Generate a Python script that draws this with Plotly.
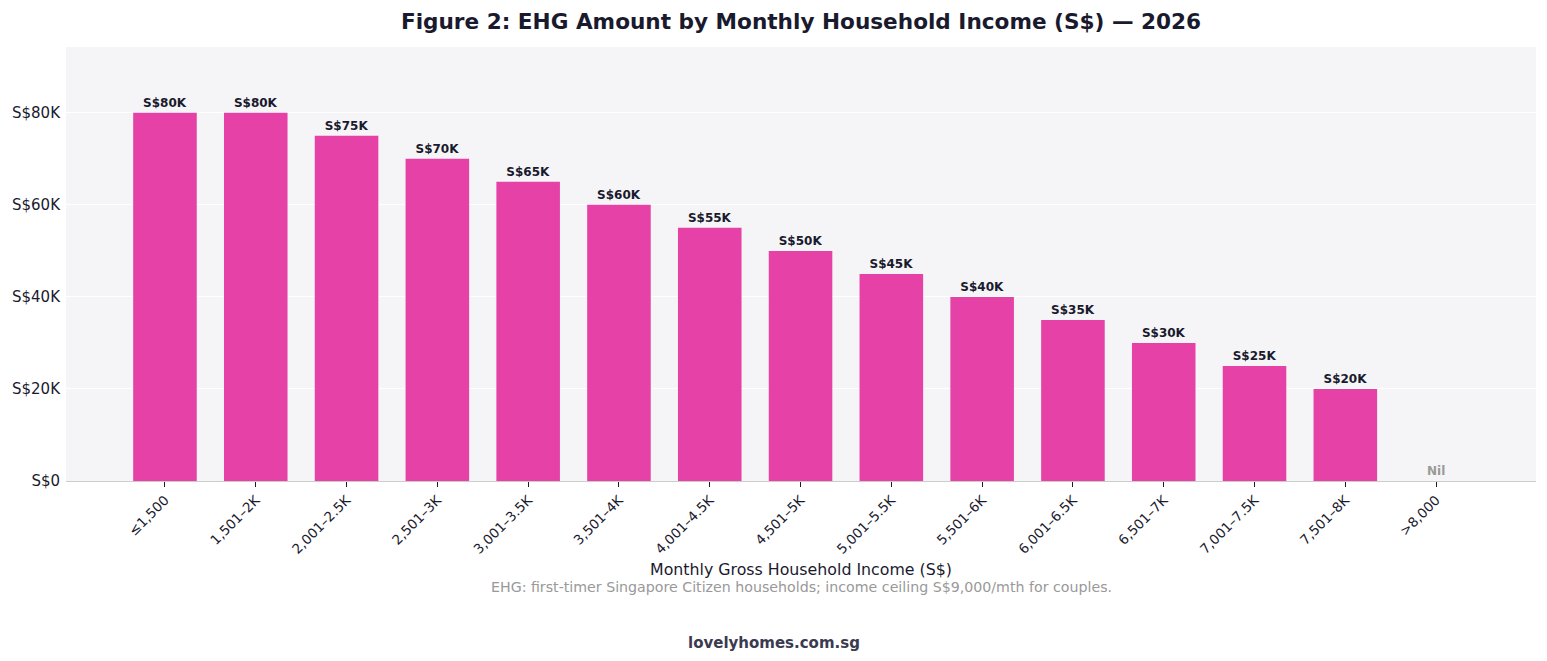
import plotly.graph_objects as go

categories = ["≤1,500", "1,501–2K", "2,001–2.5K", "2,501–3K", "3,001–3.5K", "3,501–4K",
              "4,001–4.5K", "4,501–5K", "5,001–5.5K", "5,501–6K", "6,001–6.5K",
              "6,501–7K", "7,001–7.5K", "7,501–8K", ">8,000"]
ehg_amount = [80000, 80000, 75000, 70000, 65000, 60000, 55000, 50000, 45000,
              40000, 35000, 30000, 25000, 20000, 0]
bar_labels = ["S$80K", "S$80K", "S$75K", "S$70K", "S$65K", "S$60K", "S$55K", "S$50K",
              "S$45K", "S$40K", "S$35K", "S$30K", "S$25K", "S$20K", ""]
y_tickvals = [0, 20000, 40000, 60000, 80000]
y_ticktext = ["S$0", "S$20K", "S$40K", "S$60K", "S$80K"]

FONT = "DejaVu Sans"

fig = go.Figure()
fig.add_trace(go.Bar(
    x=categories, y=ehg_amount,
    marker=dict(color="#E541A6", line=dict(width=0)),
    text=bar_labels, textposition="outside", cliponaxis=False,
    textfont=dict(family=FONT, size=12, color="#1a1a2e", weight="bold"),
    width=0.7,
))
fig.add_annotation(x=categories[-1], y=0, text="<b>Nil</b>", showarrow=False,
                   yanchor="bottom", yshift=1,
                   font=dict(family=FONT, size=12, color="#999999"))

fig.update_layout(
    width=1547, height=661,
    margin=dict(l=66, r=11, t=47, b=180),
    paper_bgcolor="white", plot_bgcolor="#F5F5F7",
    showlegend=False,
    font=dict(family=FONT, color="#1a1a2e"),
    title=dict(text="<b>Figure 2: EHG Amount by Monthly Household Income (S$) — 2026</b>",
               xref="paper", x=0.5, xanchor="center", y=0.968, yanchor="middle",
               font=dict(family=FONT, size=21.6, color="#1a1a2e")),
    xaxis=dict(
        range=[-1.09, 15.1], tickangle=-45,
        tickfont=dict(family=FONT, size=13.5, color="#1a1a2e"),
        ticks="outside", ticklen=5, tickcolor="#1a1a2e",
        showline=True, linecolor="#cccccc", linewidth=1,
        showgrid=False,
        title=dict(text="Monthly Gross Household Income (S$)",
                   font=dict(family=FONT, size=15.8, color="#1a1a2e"), standoff=8),
    ),
    yaxis=dict(
        range=[0, 94300], tickvals=y_tickvals, ticktext=y_ticktext,
        tickfont=dict(family=FONT, size=15, color="#1a1a2e"),
        gridcolor="white", gridwidth=1, zeroline=False,
        ticks="", showline=False, ticklabelstandoff=5,
    ),
)
fig.add_annotation(text="EHG: first-timer Singapore Citizen households; income ceiling S$9,000/mth for couples.",
                   xref="paper", yref="paper", x=0.5, y=-0.245, xanchor="center", yanchor="middle",
                   showarrow=False, font=dict(family=FONT, size=14.2, color="#999999"))
fig.add_annotation(text="<b>lovelyhomes.com.sg</b>",
                   xref="paper", yref="paper", x=0.4813, y=-0.373, xanchor="center", yanchor="middle",
                   showarrow=False, font=dict(family=FONT, size=15, color="#3a3a50"))

fig.write_html("out.html")
